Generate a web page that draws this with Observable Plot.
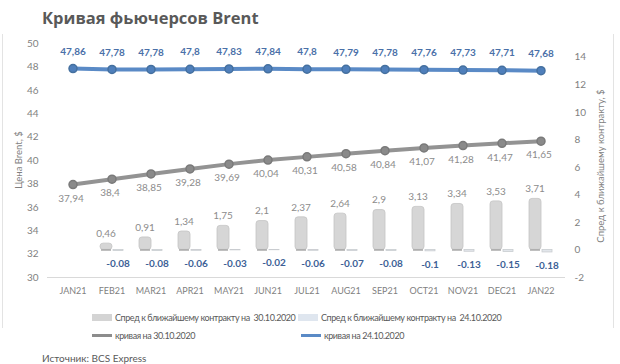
<!DOCTYPE html>
<html><head><meta charset="utf-8">
<script src="https://cdn.jsdelivr.net/npm/d3@7"></script>
<script src="https://cdn.jsdelivr.net/npm/@observablehq/plot@0.6"></script>
<style>
body{margin:0;background:#fff;}
#wrap{position:relative;width:620px;height:364px;overflow:hidden;background:#fff;font-family:Lato,"Open Sans",sans-serif;}
.layer{position:absolute;left:0;top:0;}
#frame{position:absolute;left:2px;top:34px;width:610px;height:294px;border-left:1px solid #e3e3e3;border-right:1px solid #e3e3e3;}
#title{position:absolute;left:42px;top:6px;font-family:"Open Sans",sans-serif;font-weight:bold;font-size:16.5px;color:#595959;white-space:nowrap;}
.ytitle{position:absolute;font-size:9.5px;color:#7f7f7f;white-space:nowrap;transform:translate(-50%,-50%) rotate(-90deg);}
.leg{position:absolute;font-size:9px;letter-spacing:-0.42px;color:#595959;white-space:nowrap;display:flex;align-items:center;}
.sw{display:inline-block;width:20px;margin-right:3px;}
#source{position:absolute;left:42px;top:352px;font-size:10px;color:#595959;}
</style></head>
<body><div id="wrap">
<div id="frame"></div>
<div id="title">Кривая фьючерсов Brent</div>
<div id="plots"></div>
<div class="ytitle" style="left:18px;top:160px;">Цена Brent, $</div>
<div class="ytitle" style="left:600px;top:166px;">Спред к ближайшему контракту, $</div>
<div class="leg" style="left:92px;top:312px;"><span class="sw" style="height:7px;background:#d4d4d4;"></span>Спред к ближайшему контракту на&nbsp; 30.10.2020</div>
<div class="leg" style="left:298px;top:312px;"><span class="sw" style="height:7px;background:#dfe6ef;"></span>Спред к ближайшему контракту на&nbsp; 24.10.2020</div>
<div class="leg" style="left:92px;top:330px;"><span class="sw" style="height:3px;background:#8c8c8c;"></span>кривая на 30.10.2020</div>
<div class="leg" style="left:301px;top:330px;"><span class="sw" style="height:3px;background:#5a8ac6;"></span>кривая на 24.10.2020</div>
<div id="source">Источник: BCS Express</div>
</div>
<script>
const months = ["JAN21","FEB21","MAR21","APR21","MAY21","JUN21","JUL21","AUG21","SEP21","OCT21","NOV21","DEC21","JAN22"];
const curve30 = [37.94,38.4,38.85,39.28,39.69,40.04,40.31,40.58,40.84,41.07,41.28,41.47,41.65];
const curve24 = [47.86,47.78,47.78,47.8,47.83,47.84,47.8,47.79,47.78,47.76,47.73,47.71,47.68];
const spread30 = [null,0.46,0.91,1.34,1.75,2.1,2.37,2.64,2.9,3.13,3.34,3.53,3.71];
const spread24 = [null,-0.08,-0.08,-0.06,-0.03,-0.02,-0.06,-0.07,-0.08,-0.1,-0.13,-0.15,-0.18];
const leftTicks = [30,32,34,36,38,40,42,44,46,48,50];
const rightTicks = [-2,0,2,4,6,8,10,12,14];

const comma = v => String(v).replace(".", ",");
const rows = months.map((m,i)=>({m, c30:curve30[i], c24:curve24[i], s30:spread30[i], s24:spread24[i]}));
const bars = rows.filter(d => d.s30 !== null);

const common = {
  width:620, height:305, marginLeft:47, marginRight:55, marginTop:43, marginBottom:28,
  style:{background:"transparent", color:"#7f7f7f", fontFamily:"Lato, 'Open Sans', sans-serif", fontSize:"10px", overflow:"visible"}
};

const B = Plot.plot({
  ...common,
  x:{type:"band", domain:months, padding:0, axis:null},
  y:{domain:[-2,15], axis:null},
  marks:[
    Plot.axisY({anchor:"right", ticks:rightTicks, tickSize:0, tickPadding:9, label:null, tickFormat:d=>String(d)}),
    Plot.barY(bars, {x:"m", y:"s30", fill:"#d6d6d6", stroke:"#c4c4c4", strokeWidth:0.8, rx:3, insetLeft:8, insetRight:19}),
    Plot.barY(bars, {x:"m", y:"s24", fill:"#e2e6eb", stroke:"#c9ccd0", strokeWidth:0.8, insetLeft:21, insetRight:8}),
    Plot.tickY(bars, {x:"m", y:0, stroke:"#a6a6a6", strokeWidth:1.5, insetLeft:9, insetRight:20}),
    Plot.text(bars, {x:"m", y:"s30", text:d=>comma(d.s30), dx:-6, dy:-10, fill:"#8c8c8c", fontSize:10}),
    Plot.text(bars, {x:"m", y:"s24", text:d=>String(d.s24), dx:6, dy:13, fill:"#3d5f96", fontWeight:"bold", fontSize:10})
  ]
});

const A = Plot.plot({
  ...common,
  x:{type:"band", domain:months, padding:0, label:null},
  y:{domain:[30,50], label:null},
  marks:[
    Plot.ruleY([30], {stroke:"#d9d9d9", strokeWidth:1}),
    Plot.axisX({tickSize:0, tickPadding:10, fontSize:9, label:null}),
    Plot.axisY({ticks:leftTicks, tickSize:0, tickPadding:9, label:null, tickFormat:d=>String(d)}),
    Plot.line(rows, {x:"m", y:"c30", stroke:"#939393", strokeWidth:4}),
    Plot.dot(rows, {x:"m", y:"c30", r:4, fill:"#8a8a8a", stroke:"#7a7a7a"}),
    Plot.line(rows, {x:"m", y:"c24", stroke:"#5a8ac6", strokeWidth:4}),
    Plot.dot(rows, {x:"m", y:"c24", r:4, fill:"#4f7fbb", stroke:"#45709f"}),
    Plot.text(rows, {x:"m", y:"c30", text:d=>comma(d.c30), dx:-2, dy:14, fill:"#8c8c8c", fontSize:10}),
    Plot.text(rows, {x:"m", y:"c24", text:d=>comma(d.c24), dy:-17, fill:"#4a70a8", fontWeight:"bold", fontSize:10})
  ]
});

const host = document.getElementById("plots");
[B, A].forEach(p => { p.classList.add("layer"); p.style.position="absolute"; p.style.left="0"; p.style.top="0"; host.appendChild(p); });
</script>
</body></html>
